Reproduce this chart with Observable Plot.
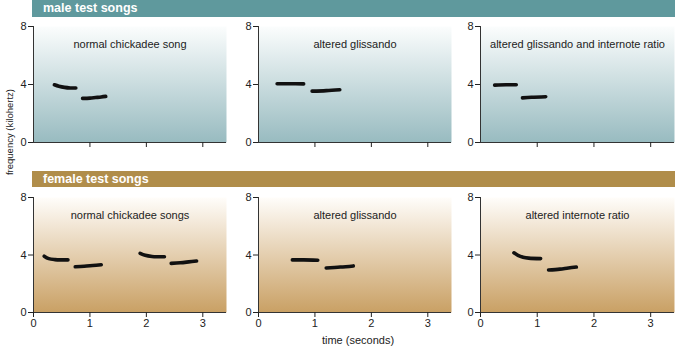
<!DOCTYPE html>
<html>
<head>
<meta charset="utf-8">
<script src="https://cdn.jsdelivr.net/npm/d3@7"></script>
<script src="https://cdn.jsdelivr.net/npm/@observablehq/plot@0.6"></script>
<style>
  body { margin: 0; background: #fff; font-family: "Liberation Sans", Arial, Helvetica, sans-serif; }
  #wrap { position: relative; width: 675px; height: 347px; overflow: hidden; }
  .band { position: absolute; left: 32px; width: 643px; color: #fff; font-weight: bold; font-size: 12.5px; box-sizing: border-box; padding-left: 11px; }
  .panel { position: absolute; }
  .lbl { position: absolute; font-size: 11px; color: #222; white-space: nowrap; }
</style>
</head>
<body>
<svg width="0" height="0" style="position:absolute">
  <defs>
    <linearGradient id="gradMale" x1="0" y1="0" x2="0" y2="1">
      <stop offset="0" stop-color="#fbfdfd"/>
      <stop offset="1" stop-color="#98bbc0"/>
    </linearGradient>
    <linearGradient id="gradFemale" x1="0" y1="0" x2="0" y2="1">
      <stop offset="0" stop-color="#fffdfa"/>
      <stop offset="1" stop-color="#c9a064"/>
    </linearGradient>
  </defs>
</svg>
<div id="wrap"></div>
<script>
// ---- data (time in seconds, frequency in kHz) ----
const groupTitles = ["male test songs", "female test songs"];
const maleTitles = ["normal chickadee song", "altered glissando", "altered glissando and internote ratio"];
const femaleTitles = ["normal chickadee songs", "altered glissando", "altered internote ratio"];
const yTicks = [0, 4, 8];
const xTicks = [0, 1, 2, 3];
const xLabel = "time (seconds)";
const yLabel = "frequency (kilohertz)";

// each song panel: list of notes, each note a list of [time, frequency]
const maleNormal = [
  [[0.37, 3.98], [0.45, 3.88], [0.55, 3.80], [0.65, 3.76], [0.75, 3.76]],
  [[0.87, 3.04], [1.00, 3.06], [1.10, 3.10], [1.20, 3.14], [1.28, 3.18]]
];
const maleGliss = [
  [[0.33, 4.05], [0.55, 4.05], [0.80, 4.04]],
  [[0.95, 3.54], [1.20, 3.58], [1.44, 3.64]]
];
const maleGlissInternote = [
  [[0.25, 3.96], [0.45, 3.98], [0.63, 3.98]],
  [[0.74, 3.08], [0.90, 3.12], [1.15, 3.16]]
];
const femaleNormal = [
  [[0.19, 3.92], [0.27, 3.75], [0.38, 3.68], [0.50, 3.66], [0.61, 3.66]],
  [[0.74, 3.18], [0.90, 3.22], [1.05, 3.27], [1.20, 3.32]],
  [[1.89, 4.12], [1.98, 3.98], [2.10, 3.90], [2.20, 3.88], [2.32, 3.88]],
  [[2.44, 3.42], [2.60, 3.46], [2.75, 3.52], [2.89, 3.58]]
];
const femaleGliss = [
  [[0.60, 3.66], [0.80, 3.66], [1.05, 3.64]],
  [[1.20, 3.10], [1.45, 3.16], [1.68, 3.24]]
];
const femaleInternote = [
  [[0.59, 4.15], [0.66, 3.98], [0.75, 3.85], [0.85, 3.78], [1.06, 3.75]],
  [[1.20, 2.96], [1.40, 3.02], [1.55, 3.10], [1.69, 3.16]]
];

const maleSongs = [maleNormal, maleGliss, maleGlissInternote];
const femaleSongs = [femaleNormal, femaleGliss, femaleInternote];

// ---- layout ----
const wrap = document.getElementById("wrap");
const font = '"Liberation Sans", Arial, Helvetica, sans-serif';
const panelLefts = [13, 238, 460];
const panelWidths = [215, 215, 216];

function band(text, top, height, color) {
  const d = document.createElement("div");
  d.className = "band";
  d.style.top = top + "px";
  d.style.height = height + "px";
  d.style.lineHeight = height + "px";
  d.style.background = color;
  d.textContent = text;
  wrap.appendChild(d);
}

function panel(notes, title, gradId, left, top, width, frameH, bottomRow) {
  const rows = notes.flatMap((note, i) => note.map(([t, f]) => ({note: i, t, f})));
  const plot = Plot.plot({
    width,
    height: 6 + frameH + 22,
    marginLeft: 20, marginRight: 2, marginTop: 6, marginBottom: 22,
    style: {fontFamily: font, fontSize: "11px", color: "#222", background: "transparent", overflow: "visible"},
    x: {domain: [0, 3.42]},
    y: {domain: [0, 8]},
    marks: [
      Plot.frame({fill: `url(#${gradId})`, stroke: "none"}),
      Plot.ruleX([0], {stroke: "#333", strokeWidth: 1}),
      Plot.ruleY([0], {stroke: "#333", strokeWidth: 1}),
      Plot.axisY({ticks: yTicks, tickSize: 5, tickPadding: 2, label: null, fontSize: 11}),
      bottomRow
        ? Plot.axisX({ticks: xTicks, tickSize: 5, tickPadding: 2, tickFormat: d3.format("d"), label: null, fontSize: 11})
        : Plot.axisX({ticks: xTicks.slice(1), tickSize: 5, tickFormat: () => "", label: null}),
      Plot.line(rows, {x: "t", y: "f", z: "note", stroke: "#111", strokeWidth: 3.6, strokeLinecap: "round", strokeLinejoin: "round", curve: "catmull-rom"}),
      Plot.text([title], {frameAnchor: "top", dy: 18, lineAnchor: "middle", fontSize: 11, fill: "#222"})
    ]
  });
  plot.classList.add("panel");
  plot.style.left = left + "px";
  plot.style.top = top + "px";
  wrap.appendChild(plot);
}

band(groupTitles[0], 0, 17, "#5f999d");
band(groupTitles[1], 171, 16, "#b08d4a");

maleSongs.forEach((s, i) => panel(s, maleTitles[i], "gradMale", panelLefts[i], 20, panelWidths[i], 116, false));
femaleSongs.forEach((s, i) => panel(s, femaleTitles[i], "gradFemale", panelLefts[i], 191, panelWidths[i], 115, true));

const yl = document.createElement("div");
yl.className = "lbl";
yl.style.left = "9px"; yl.style.top = "132px";
yl.style.fontSize = "9.5px";
yl.style.transform = "translate(-50%,-50%) rotate(-90deg)";
yl.textContent = yLabel;
wrap.appendChild(yl);

const xl = document.createElement("div");
xl.className = "lbl";
xl.style.left = "358px"; xl.style.top = "340px";
xl.style.fontSize = "11px";
xl.style.transform = "translate(-50%,-50%)";
xl.textContent = xLabel;
wrap.appendChild(xl);
</script>
</body>
</html>
